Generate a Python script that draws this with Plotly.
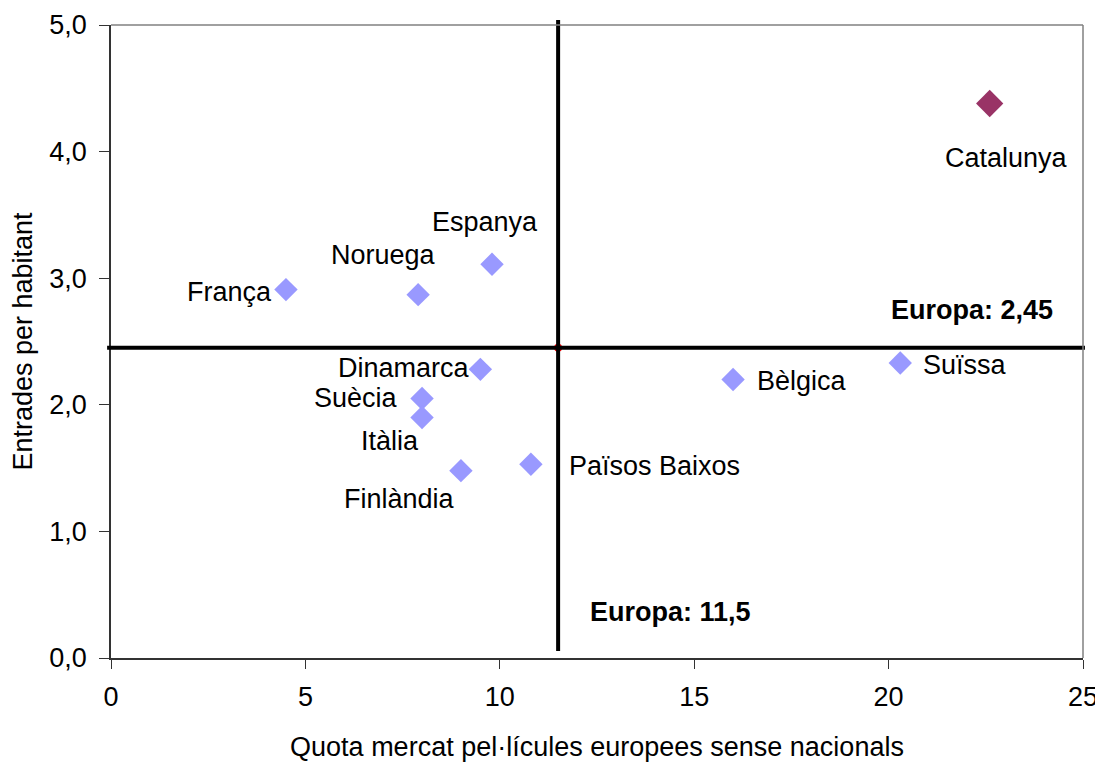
import plotly.graph_objects as go

countries = ["França", "Noruega", "Espanya", "Dinamarca", "Suècia", "Itàlia",
             "Finlàndia", "Països Baixos", "Bèlgica", "Suïssa"]
quota = [4.5, 7.9, 9.8, 9.5, 8.0, 8.0, 9.0, 10.8, 16.0, 20.3]
entrades = [2.91, 2.87, 3.11, 2.28, 2.05, 1.90, 1.48, 1.53, 2.20, 2.33]

cat_name = "Catalunya"
cat_quota = 22.6
cat_entrades = 4.38

europa_quota = 11.5
europa_entrades = 2.45

x_ticks = [0, 5, 10, 15, 20, 25]
y_ticks = [0, 1, 2, 3, 4, 5]
y_ticklabels = ["0,0", "1,0", "2,0", "3,0", "4,0", "5,0"]

# label placement offsets (pixels): (xshift, yshift, xanchor)
label_pos = {
    "França": (-12, -2, "right"),
    "Noruega": (-35, 40, "center"),
    "Espanya": (-7, 42, "center"),
    "Dinamarca": (-8, 1, "right"),
    "Suècia": (-22, 0, "right"),
    "Itàlia": (-32, -24, "center"),
    "Finlàndia": (-61, -28, "center"),
    "Països Baixos": (36, -2, "left"),
    "Bèlgica": (22, -2, "left"),
    "Suïssa": (21, -2, "left"),
}

FONT = "Liberation Sans, Arial, sans-serif"
LBL = 27
fig = go.Figure()

fig.add_trace(go.Scatter(
    x=quota, y=entrades, mode="markers",
    marker=dict(symbol="diamond", size=18, color="#9999FF", line=dict(width=0)),
    hoverinfo="text", text=countries, showlegend=False))
fig.add_trace(go.Scatter(
    x=[cat_quota], y=[cat_entrades], mode="markers",
    marker=dict(symbol="diamond", size=21, color="#993366", line=dict(width=0)),
    showlegend=False))
fig.add_trace(go.Scatter(
    x=[europa_quota], y=[europa_entrades], mode="markers",
    marker=dict(symbol="circle", size=8, color="#FF0000"),
    showlegend=False))

# Europe average lines
fig.add_shape(type="line", xref="paper", yref="y", x0=-0.004, x1=1.002,
              y0=europa_entrades, y1=europa_entrades,
              line=dict(color="black", width=4), layer="above")
fig.add_shape(type="line", xref="x", yref="paper", x0=europa_quota, x1=europa_quota,
              y0=0.011, y1=1.008, line=dict(color="black", width=4), layer="above")

# top & right frame (gray)
fig.add_shape(type="line", xref="paper", yref="paper", x0=0, x1=1, y0=1, y1=1,
              line=dict(color="#808080", width=1.5))
fig.add_shape(type="line", xref="paper", yref="paper", x0=1, x1=1, y0=1, y1=0,
              line=dict(color="#808080", width=1.5))

for name, xv, yv in zip(countries, quota, entrades):
    xs, ys, xa = label_pos[name]
    fig.add_annotation(x=xv, y=yv, text=name, showarrow=False, xshift=xs, yshift=ys,
                       xanchor=xa, yanchor="middle",
                       font=dict(family=FONT, size=LBL, color="black"))

fig.add_annotation(x=cat_quota, y=cat_entrades, text=cat_name, showarrow=False,
                   xshift=17, yshift=-55, xanchor="center", yanchor="middle",
                   font=dict(family=FONT, size=LBL, color="black"))

fig.add_annotation(x=1, xref="paper", y=europa_entrades, text="<b>Europa: 2,45</b>",
                   showarrow=False, xshift=-28, yshift=38, xanchor="right", yanchor="middle",
                   font=dict(family=FONT, size=27, color="black"))
fig.add_annotation(x=europa_quota, y=0, text="<b>Europa: 11,5</b>",
                   showarrow=False, xshift=30, yshift=46, xanchor="left", yanchor="middle",
                   font=dict(family=FONT, size=27, color="black"))

fig.update_layout(
    width=1095, height=755,
    margin=dict(l=103, r=20, t=17, b=105),
    plot_bgcolor="white", paper_bgcolor="white",
    font=dict(family=FONT, size=27, color="black"),
    xaxis=dict(range=[0, 25], tickvals=x_ticks, ticktext=[str(v) for v in x_ticks],
               showgrid=False, zeroline=False, showline=True, linecolor="#333333",
               linewidth=1.5, ticks="outside", ticklen=9, tickcolor="#333333",
               tickfont=dict(size=27), automargin=False, ticklabelstandoff=5,
               title=dict(text="Quota mercat pel·lícules europees sense nacionals",
                          font=dict(size=27), standoff=26)),
    yaxis=dict(range=[0, 5], tickvals=y_ticks, ticktext=y_ticklabels,
               showgrid=False, zeroline=False, showline=True, linecolor="#333333",
               linewidth=1.5, ticks="outside", ticklen=10, tickcolor="#333333",
               tickfont=dict(size=27), automargin=False, ticklabelstandoff=7,
               title=dict(text="Entrades per habitant", font=dict(size=27), standoff=10)),
)

fig.write_html("out.html")
